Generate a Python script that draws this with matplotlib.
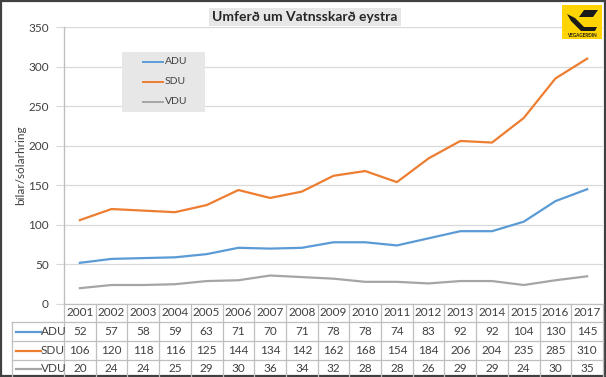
import numpy as np
import matplotlib.pyplot as plt
from matplotlib.patches import Rectangle, Polygon

plt.rcParams['font.family'] = ['Lato', 'DejaVu Sans']

years = [2001, 2002, 2003, 2004, 2005, 2006, 2007, 2008, 2009,
         2010, 2011, 2012, 2013, 2014, 2015, 2016, 2017]
adu = [52, 57, 58, 59, 63, 71, 70, 71, 78, 78, 74, 83, 92, 92, 104, 130, 145]
sdu = [106, 120, 118, 116, 125, 144, 134, 142, 162, 168, 154, 184, 206, 204, 235, 285, 310]
vdu = [20, 24, 24, 25, 29, 30, 36, 34, 32, 28, 28, 26, 29, 29, 24, 30, 35]
series = ["ADU", "SDU", "VDU"]
colors = ["#5B9BD5", "#ED7D31", "#A5A5A5"]
title = "Umferð um Vatnsskarð eystra"
ylabel = "bílar/sólarhring"

W, H = 606, 377
fig = plt.figure(figsize=(W / 100, H / 100), dpi=100)

# plot area in pixels
L, R, T, B = 64, 603, 27, 304
ax = fig.add_axes([L / W, 1 - B / H, (R - L) / W, (B - T) / H])
x = np.arange(len(years))
for vals, c, name in zip([adu, sdu, vdu], colors, series):
    ax.plot(x, vals, color=c, lw=1.6, label=name)
ax.set_xlim(-0.5, len(years) - 0.5)
ax.set_ylim(0, 350)
ax.set_yticks(np.arange(0, 351, 50))
ax.yaxis.grid(True, color="#D9D9D9", lw=0.9)
ax.set_axisbelow(True)
ax.set_xticks([])
for s in ["top", "right", "bottom"]:
    ax.spines[s].set_visible(False)
ax.spines["left"].set_color("#BFBFBF")
ax.tick_params(axis="y", length=6, color="#D9D9D9", labelsize=8.5,
               labelcolor="#404040", pad=5)
ax.set_ylabel(ylabel, fontsize=8.5, color="#404040")
ax.yaxis.set_label_coords((26 - L) / (R - L), 0.5)

# overlay in pixel coordinates for table, title, logo
ov = fig.add_axes([0, 0, 1, 1], zorder=5)
ov.set_xlim(0, W)
ov.set_ylim(H, 0)
ov.axis("off")
ov.patch.set_alpha(0)

# outer border
ov.add_patch(Rectangle((0.8, 0.8), W - 1.6, H - 1.6, fill=False, ec="#404040", lw=1.6))

# data table under the chart
grid_c = "#BFBFBF"
cw = (R - L) / len(years)
rows_y = [304, 322, 341, 360, 377]
ov.plot([L, L], [T, H], color=grid_c, lw=0.9)
for i in range(len(years)):
    xe = L + (i + 1) * cw
    ov.plot([xe, xe], [B, H], color=grid_c, lw=0.9)
ov.plot([L, R], [B, B], color=grid_c, lw=0.9)
for yy in rows_y[1:4]:
    ov.plot([12, R], [yy, yy], color=grid_c, lw=0.9)
ov.plot([12, 12], [rows_y[1], H], color=grid_c, lw=0.9)
for i, yr in enumerate(years):
    ov.text(L + (i + 0.5) * cw, (rows_y[0] + rows_y[1]) / 2, str(yr),
            ha="center", va="center", fontsize=8.5, color="#404040")
for r, (vals, c, name) in enumerate(zip([adu, sdu, vdu], colors, series)):
    yc = (rows_y[r + 1] + rows_y[r + 2]) / 2
    ov.plot([16, 41], [yc, yc], color=c, lw=1.6)
    ov.text(41, yc, name, ha="left", va="center", fontsize=8.5, color="#404040")
    for i, v in enumerate(vals):
        ov.text(L + (i + 0.5) * cw, yc, str(v), ha="center", va="center",
                fontsize=8.5, color="#404040")

# title with grey background
ov.text(305, 17, title, ha="center", va="center", fontsize=10, fontweight="bold",
        color="#262626", bbox=dict(boxstyle="square,pad=0.25", fc="#E7E7E7", ec="none"))

# legend box
ov.add_patch(Rectangle((122, 52), 83, 60, fc="#E7E7E7", ec="none"))
for k, (c, name) in enumerate(zip(colors, series)):
    yc = 62 + k * 20
    ov.plot([143, 163], [yc, yc], color=c, lw=1.4)
    ov.text(165, yc, name, ha="left", va="center", fontsize=7.5, color="#404040")

# logo
ov.add_patch(Rectangle((562, 5), 40, 34, fc="#FFD400", ec="none"))
ov.add_patch(Polygon([[584, 10], [598, 10], [593, 17], [579, 17]], fc="#1A1A1A", ec="none"))
ov.add_patch(Polygon([[567, 14], [575, 18], [584, 27], [597, 27], [595, 31], [581, 31], [571, 21]],
                     fc="#1A1A1A", ec="none"))
ov.text(582, 35.5, "VEGAGERÐIN", ha="center", va="center", fontsize=3.3,
        fontweight="bold", color="#1A1A1A")

fig.savefig("out.png", dpi=100)
